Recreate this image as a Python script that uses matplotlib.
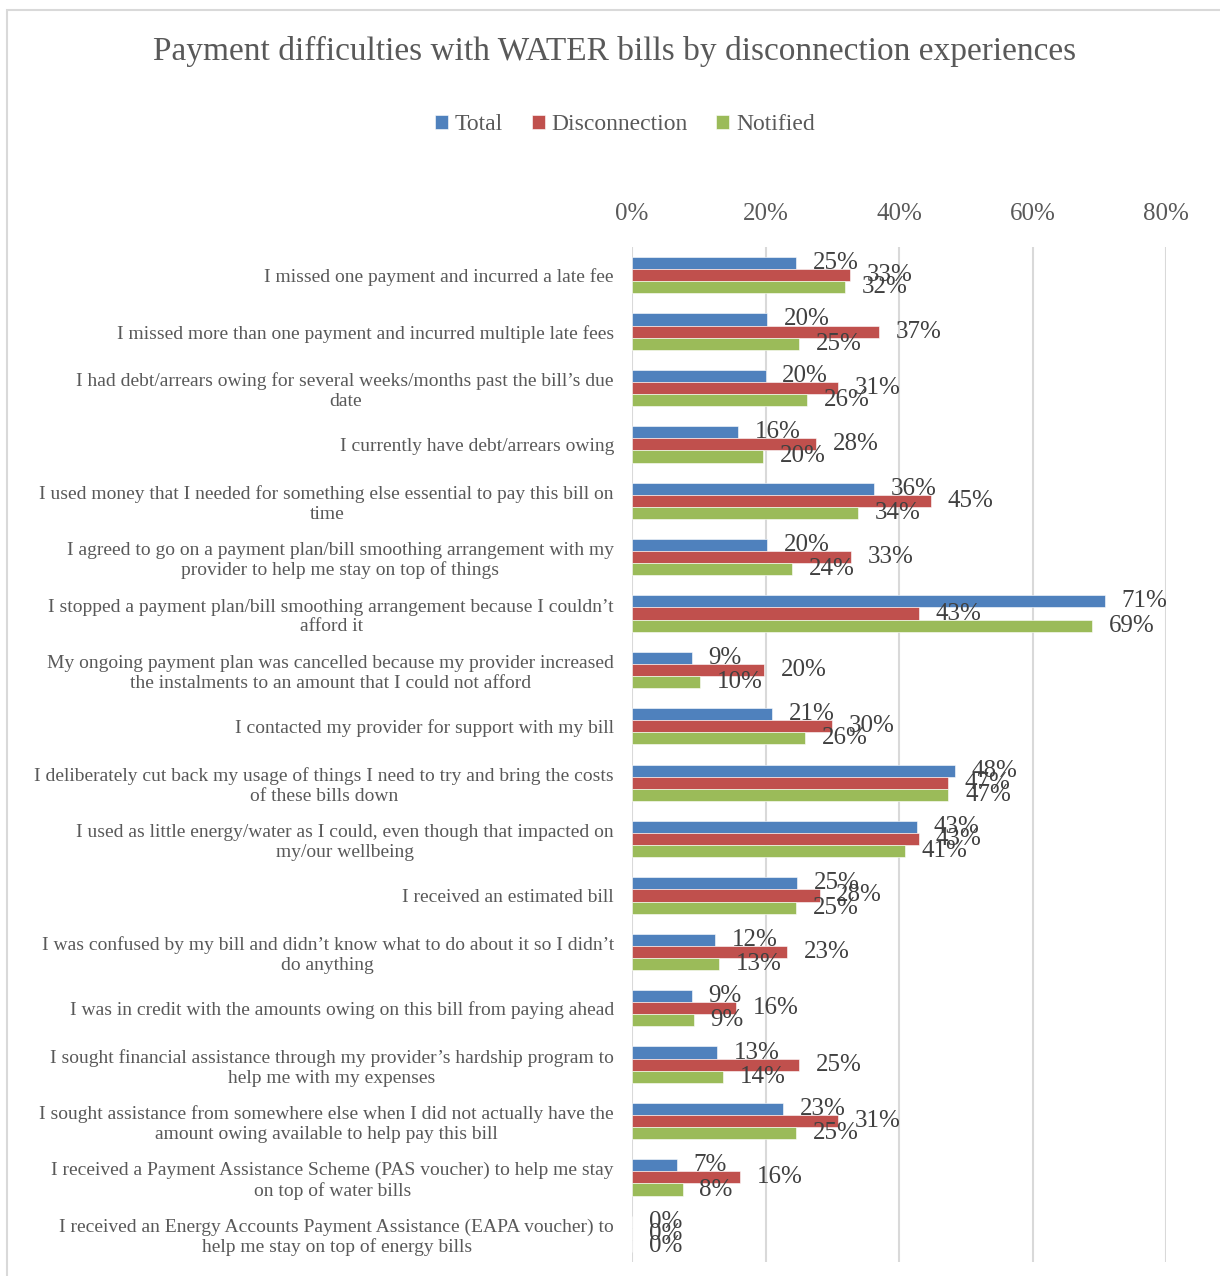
import numpy as np
import matplotlib.pyplot as plt
from matplotlib.patches import Rectangle

plt.rcParams['font.family'] = ['Liberation Serif', 'DejaVu Serif']

# Data (percent)
categories = [
    "I missed one payment and incurred a late fee",
    "I missed more than one payment and incurred multiple late fees",
    "I had debt/arrears owing for several weeks/months past the bill\u2019s due\ndate",
    "I currently have debt/arrears owing",
    "I used money that I needed for something else essential to pay this bill on\ntime",
    "I agreed to go on a payment plan/bill smoothing arrangement with my\nprovider to help me stay on top of things",
    "I stopped a payment plan/bill smoothing arrangement because I couldn\u2019t\nafford it",
    "My ongoing payment plan was cancelled because my provider increased\nthe instalments to an amount that I could not afford",
    "I contacted my provider for support with my bill",
    "I deliberately cut back my usage of things I need to try and bring the costs\nof these bills down",
    "I used as little energy/water as I could, even though that impacted on\nmy/our wellbeing",
    "I received an estimated bill",
    "I was confused by my bill and didn\u2019t know what to do about it so I didn\u2019t\ndo anything",
    "I was in credit with the amounts owing on this bill from paying ahead",
    "I sought financial assistance through my provider\u2019s hardship program to\nhelp me with my expenses",
    "I sought assistance from somewhere else when I did not actually have the\namount owing available to help pay this bill",
    "I received a Payment Assistance Scheme (PAS voucher) to help me stay\non top of water bills",
    "I received an Energy Accounts Payment Assistance (EAPA voucher) to\nhelp me stay on top of energy bills",
]
total = [24.6, 20.2, 20.0, 15.9, 36.2, 20.2, 70.8, 9.0, 21.0, 48.4, 42.7, 24.7, 12.4, 9.0, 12.7, 22.6, 6.7, 0.0]
disconnection = [32.6, 37.0, 30.8, 27.6, 44.8, 32.8, 43.0, 19.8, 30.0, 47.3, 43.0, 28.1, 23.2, 15.6, 25.0, 30.8, 16.2, 0.0]
notified = [31.9, 25.0, 26.2, 19.6, 33.8, 24.0, 68.9, 10.2, 25.9, 47.4, 40.9, 24.6, 13.0, 9.3, 13.6, 24.6, 7.6, 0.0]

series_names = ["Total", "Disconnection", "Notified"]
colors = ["#4F81BD", "#C0504D", "#9BBB59"]
x_ticks = [0, 20, 40, 60, 80]

text_col = "#595959"
grid_col = "#D9D9D9"

fig = plt.figure(figsize=(12.2, 12.76), dpi=100)
W, H = 1220, 1276
ax = fig.add_axes([632 / W, 1 - 1262 / H, (1166 - 632) / W, (1262 - 247) / H])

y = np.arange(len(categories))
h = 0.215
for k, (name, vals, c) in enumerate(zip(series_names, [total, disconnection, notified], colors)):
    bars = ax.barh(y + (k - 1) * h, vals, height=h, color=c,
                   edgecolor="white", linewidth=0.4, label=name)
    ax.bar_label(bars, labels=[f"{v:.0f}%" for v in vals], padding=12,
                 fontsize=18, color="#404040")

ax.set_xlim(0, 80)
ax.set_ylim(len(categories) - 0.5, -0.5)
ax.set_xticks(x_ticks)
ax.set_xticklabels([f"{t}%" for t in x_ticks])
ax.xaxis.tick_top()
ax.tick_params(axis="x", length=0, pad=16, labelsize=18, labelcolor=text_col)
ax.set_yticks(y)
ax.set_yticklabels(categories, fontsize=14, color=text_col,
                   multialignment="center", linespacing=1.2)
ax.tick_params(axis="y", length=0, pad=13)
ax.grid(axis="x", color=grid_col, linewidth=1.5)
ax.set_axisbelow(True)
for s in ax.spines.values():
    s.set_visible(False)

fig.text(615 / W, 1 - 51 / H,
         "Payment difficulties with WATER bills by disconnection experiences",
         ha="center", va="center", fontsize=24, color=text_col)

fig.legend(loc="center", bbox_to_anchor=(625 / W, 1 - 125 / H), ncol=3,
           frameon=False, fontsize=17, handlelength=0.55, handleheight=0.55,
           handletextpad=0.3, columnspacing=1.2, labelcolor=text_col)

# chart frame
fig.add_artist(Rectangle((7 / W, -0.1), 1.0, (1 - 10 / H) + 0.1,
                         transform=fig.transFigure, fill=False,
                         edgecolor=grid_col, linewidth=1.5))

fig.savefig("out.png", dpi=100)
